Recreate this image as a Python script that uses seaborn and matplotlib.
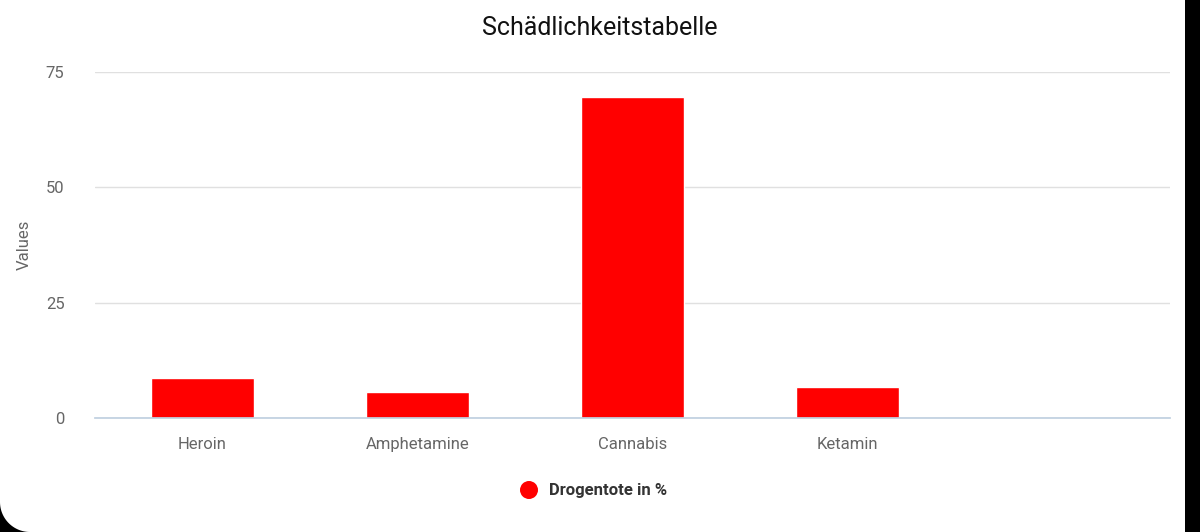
import matplotlib
matplotlib.use("Agg")
import matplotlib.pyplot as plt
import seaborn as sns
import pandas as pd
import numpy as np
from matplotlib.patches import Ellipse, Rectangle, Polygon

categories = ["Heroin", "Amphetamine", "Cannabis", "Ketamin", ""]
values = [8.7, 5.6, 69.5, 6.7, 0.0]
series_name = "Drogentote in %"
yticks = [0, 25, 50, 75]

sns.set_theme(style="white")
plt.rcParams['font.family'] = ['Roboto', 'DejaVu Sans']

W, H = 1200, 532
fig = plt.figure(figsize=(W/100, H/100), dpi=100, facecolor="white")

# black frame pieces: right strip and rounded bottom-left corner
fig.add_artist(Rectangle((1185/W, 0), 15/W, 1, transform=fig.transFigure,
                         facecolor="black", edgecolor="none", zorder=-2))
r = 30
th = np.linspace(np.pi, 1.5*np.pi, 30)
arc = [((r + r*np.cos(t))/W, (r + r*np.sin(t))/H) for t in th]
poly = [(0, 0)] + [(0, r/H)] + arc[::1] + [(r/W, 0)]
fig.add_artist(Polygon(poly, closed=True, transform=fig.transFigure,
                       facecolor="black", edgecolor="none", zorder=-2))

ax = fig.add_axes([95/W, 1-418/H, (1170-95)/W, (418-72)/H])
ax.set_facecolor("none")
df = pd.DataFrame({"cat": categories, "val": values})
sns.barplot(data=df, x="cat", y="val", color="#ff0000", saturation=1, width=0.48, ax=ax)
ax.set_ylim(0, 75)
ax.set_xlim(-0.5, 4.5)
ax.set_yticks(yticks)
ax.yaxis.grid(True, color="#e0e0e0", linewidth=1)
ax.set_axisbelow(True)
for s in ["top", "right", "left"]:
    ax.spines[s].set_visible(False)
ax.spines["bottom"].set_color("#c0d0e0")
ax.tick_params(axis="both", length=0, labelsize=12, colors="#666666")
ax.tick_params(axis="x", pad=14)
ax.tick_params(axis="y", pad=22)
ax.set_xlabel("")
ax.set_ylabel("Values", fontsize=12, color="#666666", labelpad=10)

fig.text(600/W, 1-28/H, "Schädlichkeitstabelle", ha="center", va="center", fontsize=18, color="#111111")
fig.add_artist(Ellipse((529/W, 1-490/H), 18/W, 18/H, transform=fig.transFigure,
                       facecolor="#ff0000", edgecolor="none"))
fig.text(549/W, 1-491/H, series_name, ha="left", va="center", fontsize=12, fontweight="bold", color="#333333")
fig.savefig("out.png", dpi=100, facecolor="white")
